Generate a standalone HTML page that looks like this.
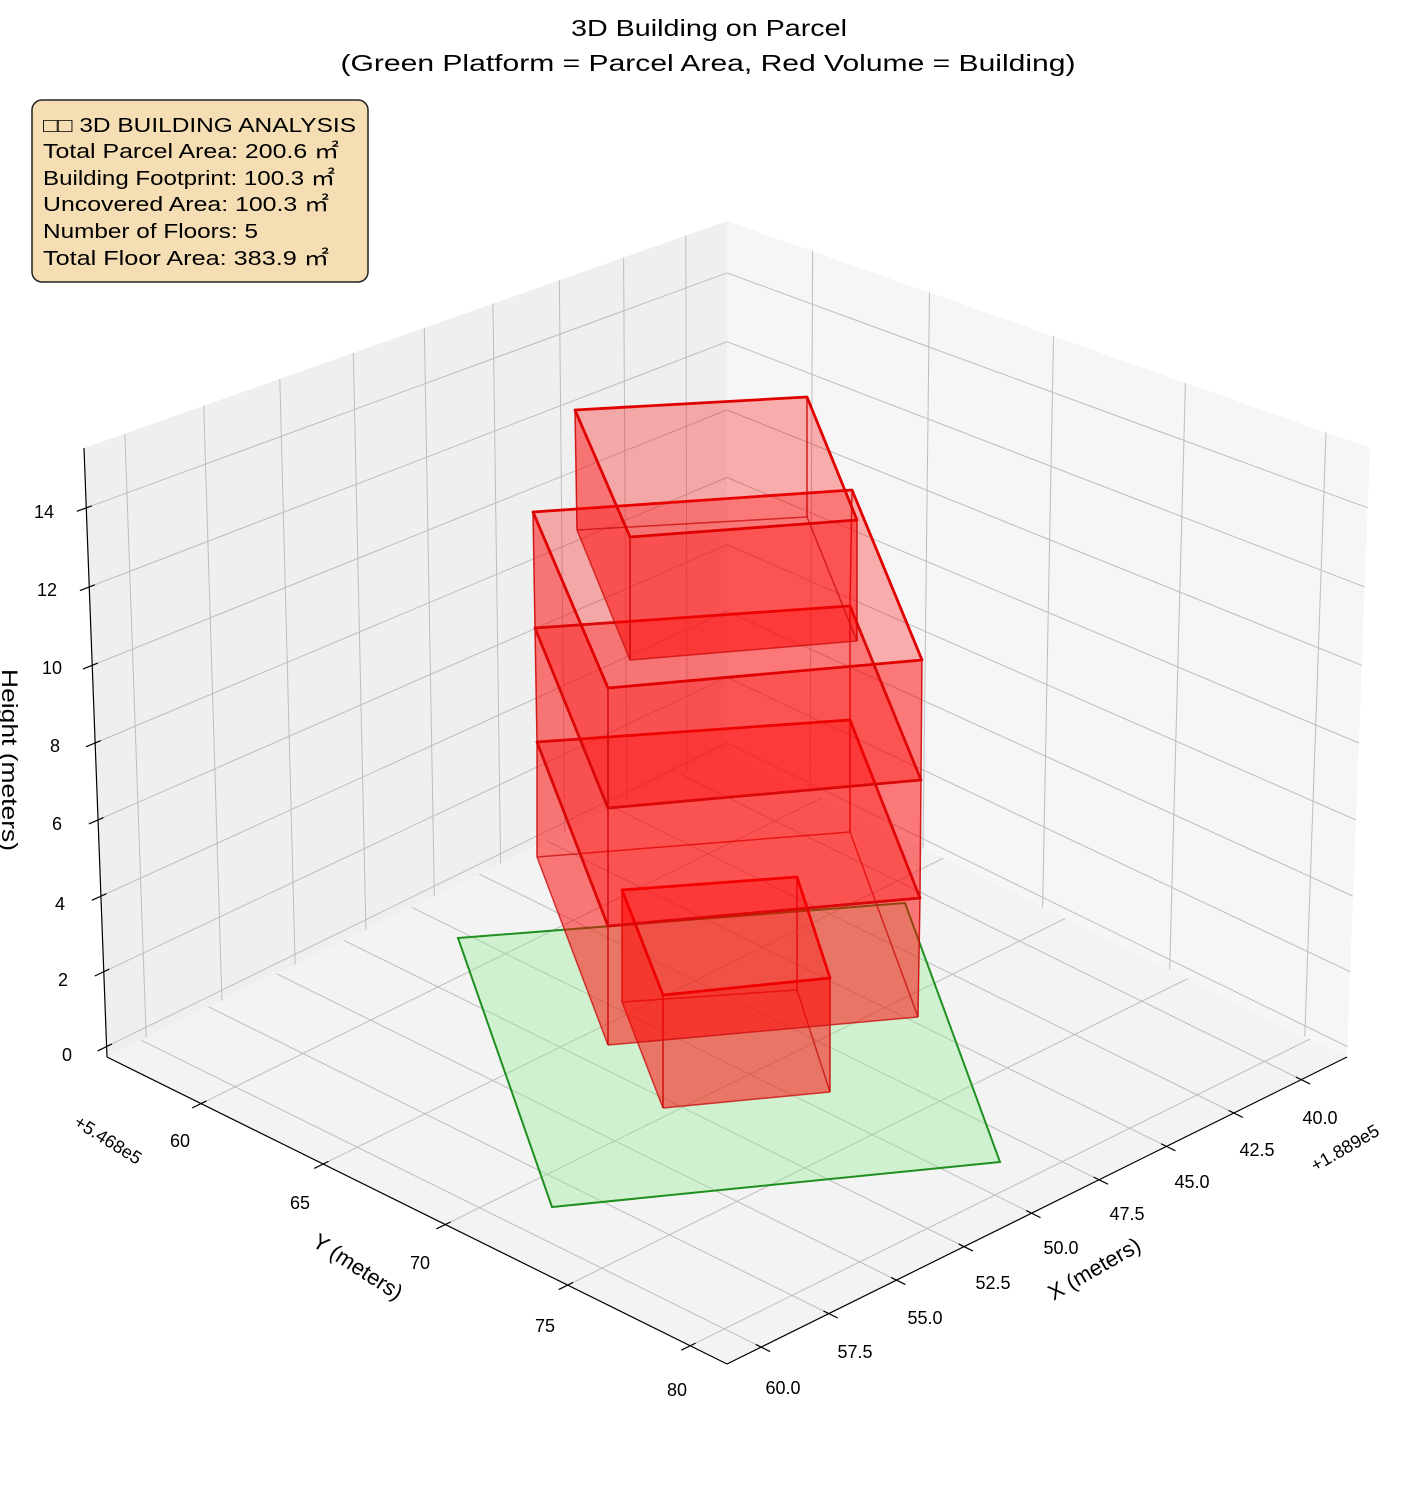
<!DOCTYPE html>
<html><head><meta charset="utf-8"><style>
html,body{margin:0;padding:0;background:#fff;}
svg{display:block;}
text{font-family:"Liberation Sans","Noto Sans CJK JP",sans-serif;fill:#000;}
</style></head><body>
<svg id="s" width="1416" height="1486" viewBox="0 0 1416 1486" xmlns="http://www.w3.org/2000/svg">
<g id="panes"></g>
<g id="grid" stroke="#bdbdbd" stroke-width="1" fill="none"></g>
<g id="axes" stroke="#000" stroke-width="1.2" fill="none"></g>
<polygon points="458,938 905,903 1000,1162 552,1207" fill="rgb(144,238,144)" fill-opacity="0.35" stroke="#1f8f1f" stroke-width="2"/>
<g id="boxes"></g>
<text x="709" y="36" font-size="23" text-anchor="middle" textLength="276" lengthAdjust="spacingAndGlyphs">3D Building on Parcel</text>
<text x="708" y="71" font-size="23" text-anchor="middle" textLength="735" lengthAdjust="spacingAndGlyphs">(Green Platform = Parcel Area, Red Volume = Building)</text>
<rect x="32" y="100" width="336" height="182" rx="10" ry="10" fill="#f5deb3" stroke="#222" stroke-width="1.5"/>
<g font-size="20">
<text x="43" y="132" textLength="313" lengthAdjust="spacingAndGlyphs">□□ 3D BUILDING ANALYSIS</text>
<text x="43" y="158" textLength="296" lengthAdjust="spacingAndGlyphs">Total Parcel Area: 200.6 ㎡</text>
<text x="43" y="185" textLength="292" lengthAdjust="spacingAndGlyphs">Building Footprint: 100.3 ㎡</text>
<text x="43" y="211" textLength="286" lengthAdjust="spacingAndGlyphs">Uncovered Area: 100.3 ㎡</text>
<text x="43" y="238" textLength="215" lengthAdjust="spacingAndGlyphs">Number of Floors: 5</text>
<text x="43" y="265" textLength="286" lengthAdjust="spacingAndGlyphs">Total Floor Area: 383.9 ㎡</text>
</g>
<g font-size="18" text-anchor="middle">
<text x="44" y="518">14</text><text x="47" y="596">12</text><text x="52" y="674">10</text>
<text x="55" y="752">8</text><text x="57" y="830">6</text><text x="60" y="910">4</text>
<text x="63" y="986">2</text><text x="67" y="1061">0</text>
<text x="180" y="1147">60</text><text x="300" y="1209">65</text><text x="420" y="1269">70</text>
<text x="545" y="1332">75</text><text x="677" y="1396">80</text>
<text x="783" y="1394">60.0</text><text x="855" y="1358">57.5</text><text x="925" y="1324">55.0</text>
<text x="993" y="1289">52.5</text><text x="1061" y="1254">50.0</text><text x="1127" y="1220">47.5</text>
<text x="1192" y="1188">45.0</text><text x="1257" y="1156">42.5</text><text x="1320" y="1124">40.0</text>
</g>
<text x="108" y="1146" font-size="18" text-anchor="middle" transform="rotate(32 108 1140)">+5.468e5</text>
<text x="1345" y="1154" font-size="18" text-anchor="middle" transform="rotate(-30 1345 1148)">+1.889e5</text>
<text x="357" y="1274" font-size="22" text-anchor="middle" transform="rotate(33 357 1268)">Y (meters)</text>
<text x="1095" y="1276" font-size="22" text-anchor="middle" transform="rotate(-30 1095 1270)">X (meters)</text>
<text x="2" y="760" font-size="22" text-anchor="middle" textLength="182" lengthAdjust="spacingAndGlyphs" transform="rotate(90 2 760)">Height (meters)</text>
</svg>
<script>
(function(){
var NS="http://www.w3.org/2000/svg";
function el(p,t,a){var e=document.createElementNS(NS,t);for(var k in a)e.setAttribute(k,a[k]);document.getElementById(p).appendChild(e);return e;}
function H(q){var x0=q[0][0],y0=q[0][1],x1=q[1][0],y1=q[1][1],x2=q[2][0],y2=q[2][1],x3=q[3][0],y3=q[3][1];
var dx1=x1-x2,dx2=x3-x2,dx3=x0-x1+x2-x3,dy1=y1-y2,dy2=y3-y2,dy3=y0-y1+y2-y3,a,b,c,d,e,f,g,h;
if(Math.abs(dx3)<1e-9&&Math.abs(dy3)<1e-9){a=x1-x0;b=x2-x1;c=x0;d=y1-y0;e=y2-y1;f=y0;g=0;h=0;}
else{var den=dx1*dy2-dx2*dy1;g=(dx3*dy2-dx2*dy3)/den;h=(dx1*dy3-dx3*dy1)/den;
a=x1-x0+g*x1;b=x3-x0+h*x3;c=x0;d=y1-y0+g*y1;e=y3-y0+h*y3;f=y0;}
return function(u,v){var w=g*u+h*v+1;return [(a*u+b*v+c)/w,(d*u+e*v+f)/w];};}
var L=[107,1057],F=[727,1364],R=[1347,1057],B=[727,752],TL=[84,448],TR=[1370,448],TB=[727,221];
var X0=38.3,X1=61.26,Y0=56.14,Y1=81.5,Z0=-0.28,Z1=15.5;
function fx(x){return (x-X0)/(X1-X0);}function fy(y){return (y-Y0)/(Y1-Y0);}function fz(z){return (z-Z0)/(Z1-Z0);}
var floor=H([B,L,F,R]),left=H([B,L,TL,TB]),right=H([B,R,TR,TB]);
function poly(q){return q.map(function(p){return p[0]+","+p[1];}).join(" ");}
el("panes","polygon",{points:poly([B,L,TL,TB]),fill:"#efefef"});
el("panes","polygon",{points:poly([B,R,TR,TB]),fill:"#f6f6f6"});
el("panes","polygon",{points:poly([B,L,F,R]),fill:"#f3f3f3"});
function line(g,p,q,extra){var a={x1:p[0],y1:p[1],x2:q[0],y2:q[1]};for(var k in extra)a[k]=extra[k];el(g,"line",a);}
var xs=[40,42.5,45,47.5,50,52.5,55,57.5,60],ys=[60,65,70,75,80],zs=[0,2,4,6,8,10,12,14];
xs.forEach(function(x){var u=fx(x);line("grid",floor(u,0),floor(u,1));line("grid",left(u,0),left(u,1));});
ys.forEach(function(y){var v=fy(y);line("grid",floor(0,v),floor(1,v));line("grid",right(v,0),right(v,1));});
zs.forEach(function(z){var v=fz(z);line("grid",left(0,v),left(1,v));line("grid",right(0,v),right(1,v));});
line("axes",TL,L);line("axes",L,F);line("axes",F,R);
function tick(p,q){var dx=q[0]-p[0],dy=q[1]-p[1],n=Math.sqrt(dx*dx+dy*dy);dx/=n;dy/=n;
line("axes",[p[0]+6*dx,p[1]+6*dy],[p[0]-10*dx,p[1]-10*dy]);}
zs.forEach(function(z){var v=fz(z);tick(left(1,v),left(0.9,v));});
ys.forEach(function(y){var v=fy(y);tick(floor(1,v),floor(0.9,v));});
xs.forEach(function(x){var u=fx(x);tick(floor(u,1),floor(u,0.9));});
var boxes=[
[[[622,890],[797,877],[830,978],[663,995]],[[622,1002],[797,990],[830,1092],[663,1108]]],
[[[537,742],[850,720],[920,898],[608,926]],[[537,857],[850,832],[918,1017],[608,1045]]],
[[[535,628],[850,606],[921,780],[608,808]],[[537,742],[850,720],[920,898],[608,926]]],
[[[533,512],[852,490],[922,660],[608,688]],[[535,628],[850,606],[921,780],[608,808]]],
[[[575,410],[807,397],[857,520],[630,537]],[[577,530],[807,517],[857,641],[630,660]]]
];
boxes.forEach(function(b){var t=b[0],d=b[1];
var faces=[d];for(var i=0;i<4;i++){var j=(i+1)%4;faces.push([t[i],t[j],d[j],d[i]]);}
faces.forEach(function(f){el("boxes","polygon",{points:poly(f),fill:"rgb(255,0,0)","fill-opacity":"0.3",stroke:"none"});});
for(var i=0;i<4;i++){var j=(i+1)%4;
line("boxes",d[i],d[j],{stroke:"#cc1010","stroke-width":"1.5","stroke-opacity":"0.8"});
line("boxes",t[i],d[i],{stroke:"#cc0000","stroke-width":"1.5","stroke-opacity":"0.85"});}
el("boxes","polygon",{points:poly(t),fill:"none",stroke:"#e00000","stroke-width":"2.8","stroke-linejoin":"round"});
});
})();
</script>
</body></html>
